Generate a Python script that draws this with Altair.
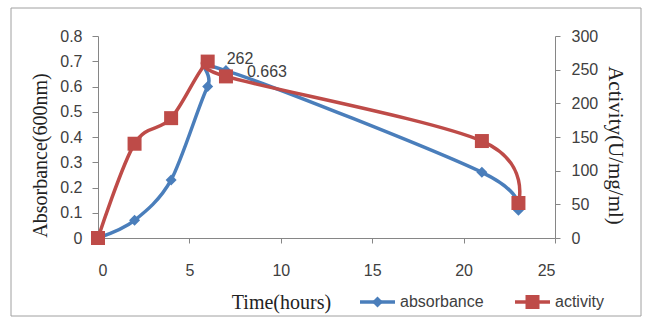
import altair as alt
import pandas as pd

# ---- data ----
time = [0, 2, 4, 6, 7, 21, 23]
absorbance = [0, 0.07, 0.23, 0.6, 0.663, 0.26, 0.11]
activity = [0, 140, 178, 262, 240, 144, 52]
series = ["absorbance", "activity"]
abs_label_time = [7]
act_label_time = [6]
x_ticks = [0, 5, 10, 15, 20, 25]
abs_ticks = [0, 0.1, 0.2, 0.3, 0.4, 0.5, 0.6, 0.7, 0.8]
act_ticks = [0, 50, 100, 150, 200, 250, 300]

df = pd.DataFrame({"time": time, "absorbance": absorbance, "activity": activity})

BLUE = "#4a7ebb"
RED = "#be4b48"
AX = "#868686"
TXT = "#404040"
SANS = "Liberation Sans"
SERIF = "Liberation Serif"

base = alt.Chart(df)

x_enc = alt.X(
    "time:Q",
    scale=alt.Scale(domain=[0, 25], nice=False, zero=False),
    axis=alt.Axis(
        values=x_ticks, title="Time(hours)", grid=False, domainColor=AX, tickColor=AX,
        tickSize=5, labelFontSize=16, labelFont=SANS, labelColor=TXT, labelPadding=19,
        titleFont=SERIF, titleFontSize=20, titleFontWeight="normal", titleColor="#222222",
        titleX=183, titleY=64, titleAlign="center", titleBaseline="middle",
    ),
)

y_abs = alt.Y(
    "absorbance:Q",
    scale=alt.Scale(domain=[0, 0.8], nice=False),
    axis=alt.Axis(
        orient="left", values=abs_ticks, format=".1~f", title="Absorbance(600nm)", grid=False,
        domainColor=AX, tickColor=AX, tickSize=6, labelFontSize=16, labelFont=SANS,
        labelColor=TXT, labelPadding=10,
        titleFont=SERIF, titleFontSize=20, titleFontWeight="normal", titleColor="#222222",
        titleAngle=270, titleX=-58, titleY=119, titleAlign="center", titleBaseline="middle",
    ),
)

y_act = alt.Y(
    "activity:Q",
    scale=alt.Scale(domain=[0, 300], nice=False),
    axis=alt.Axis(
        orient="right", values=act_ticks, title="Activity(U/mg/ml)", grid=False,
        domainColor=AX, tickColor=AX, tickSize=5, labelFontSize=16, labelFont=SANS,
        labelColor=TXT, labelPadding=11,
        titleFont=SERIF, titleFontSize=21, titleFontWeight="normal", titleColor="#222222",
        titleAngle=90, titleX=59, titleY=109, titleAlign="center", titleBaseline="middle",
    ),
)

abs_line = base.mark_line(color=BLUE, strokeWidth=3.5, interpolate="cardinal", tension=0.1).encode(x=x_enc, y=y_abs)
abs_pts = base.mark_point(shape="diamond", filled=True, color=BLUE, size=121, opacity=1).encode(x=x_enc, y=y_abs)
abs_lab = base.transform_filter(
    alt.FieldOneOfPredicate(field="time", oneOf=abs_label_time)
).mark_text(align="left", baseline="middle", dx=21, dy=1, fontSize=16, font=SANS, color=TXT).encode(
    x=x_enc, y=y_abs, text=alt.Text("absorbance:Q", format=".3f")
)

act_line = base.mark_line(color=RED, strokeWidth=3.5, interpolate="cardinal", tension=0).encode(x=x_enc, y=y_act)
act_pts = base.mark_point(shape="square", filled=True, color=RED, size=196, opacity=1).encode(x=x_enc, y=y_act)
act_lab = base.transform_filter(
    alt.FieldOneOfPredicate(field="time", oneOf=act_label_time)
).mark_text(align="left", baseline="middle", dx=19, dy=-3, fontSize=16, font=SANS, color=TXT).encode(
    x=x_enc, y=y_act, text=alt.Text("activity:Q", format="d")
)

left = alt.layer(abs_line, abs_pts, abs_lab)
right = alt.layer(act_line, act_pts, act_lab)

# ---- decorations: outer frame and legend ----
one = alt.Chart(pd.DataFrame({"k": [0]}))
frame = one.mark_rect(fill=None, stroke="#a0a0a0", strokeWidth=1).encode(
    x=alt.value(-87), x2=alt.value(543), y=alt.value(-28), y2=alt.value(280)
)
LY = 266
leg_abs_line = one.mark_rule(color=BLUE, strokeWidth=3.5).encode(
    x=alt.value(262), x2=alt.value(297), y=alt.value(LY)
)
leg_abs_pt = one.mark_point(shape="diamond", filled=True, color=BLUE, size=121, opacity=1).encode(
    x=alt.value(279.5), y=alt.value(LY)
)
leg_abs_txt = one.mark_text(align="left", baseline="middle", fontSize=16, font=SANS, color=TXT).encode(
    x=alt.value(302), y=alt.value(LY), text=alt.value(series[0])
)
leg_act_line = one.mark_rule(color=RED, strokeWidth=3.5).encode(
    x=alt.value(417), x2=alt.value(452), y=alt.value(LY)
)
leg_act_pt = one.mark_point(shape="square", filled=True, color=RED, size=196, opacity=1).encode(
    x=alt.value(434.5), y=alt.value(LY)
)
leg_act_txt = one.mark_text(align="left", baseline="middle", fontSize=16, font=SANS, color=TXT).encode(
    x=alt.value(457), y=alt.value(LY), text=alt.value(series[1])
)

chart = alt.layer(
    frame, left, right,
    leg_abs_line, leg_abs_pt, leg_abs_txt, leg_act_line, leg_act_pt, leg_act_txt,
).resolve_scale(y="independent").properties(
    width=457, height=202,
    autosize=alt.AutoSizeParams(type="none"),
    padding={"left": 98, "top": 36, "right": 91, "bottom": 82},
    background="white",
).configure_view(stroke=None)

chart.save("out.html", embed_options={"renderer": "svg", "actions": False})
